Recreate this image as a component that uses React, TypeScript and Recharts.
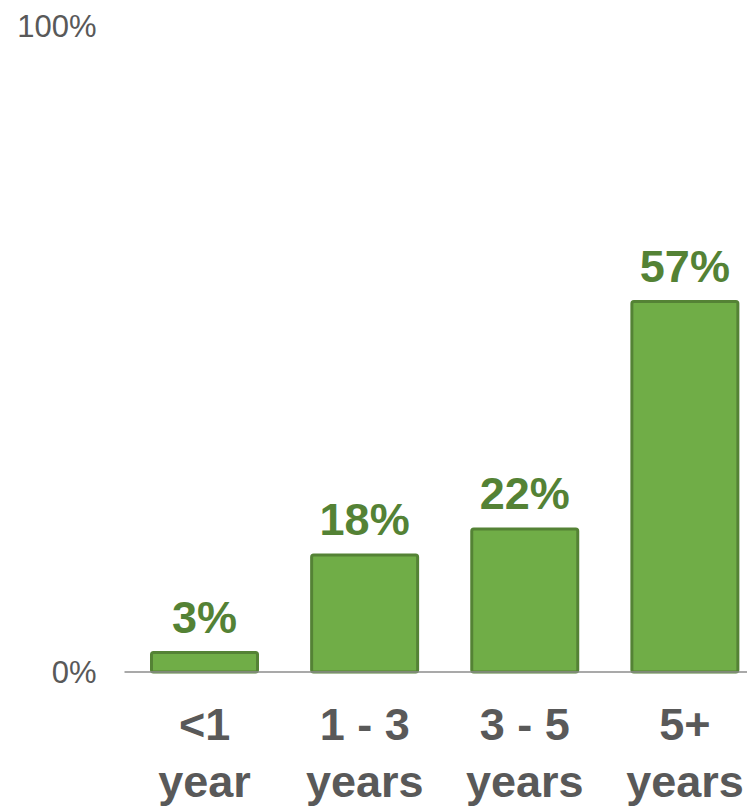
import React from "react";
import { BarChart, Bar, XAxis, YAxis, LabelList } from "recharts";

const categoriesTop = ["<1", "1 - 3", "3 - 5", "5+"];
const categoriesBottom = ["year", "years", "years", "years"];
const values = [3, 18, 22, 57];
const yTicks = [0, 100];

const data = categoriesTop.map((c, i) => ({
  name: c,
  sub: categoriesBottom[i],
  value: values[i],
}));

const FONT = "'Liberation Sans', Arial, sans-serif";

const CategoryTick = (props: any) => {
  const { x, y, index } = props;
  return (
    <text
      x={x}
      y={y}
      textAnchor="middle"
      fill="#595959"
      fontFamily={FONT}
      fontWeight="bold"
      fontSize={45}
    >
      <tspan x={x} dy={68}>{categoriesTop[index]}</tspan>
      <tspan x={x} dy={57}>{categoriesBottom[index]}</tspan>
    </text>
  );
};

export default function App() {
  return (
    <div style={{ width: 747, height: 804, overflow: "hidden" }}>
      <BarChart
        width={757}
        height={804}
        data={data}
        margin={{ top: 14, right: 0, bottom: 0, left: 0 }}
      >
        <YAxis
          domain={[0, 100]}
          ticks={yTicks}
          width={116.5}
          axisLine={false}
          tickLine={false}
          tickSize={0}
          tickMargin={28}
          tickFormatter={(v: number) => `${v}%`}
          tick={{ fill: "#595959", fontSize: 31, fontFamily: FONT } as any}
        />
        <XAxis
          dataKey="name"
          height={140}
          tickLine={false}
          tickSize={0}
          tickMargin={0}
          axisLine={{ stroke: "#8c8c8c", strokeWidth: 1.5 }}
          tick={<CategoryTick />}
          interval={0}
        />
        <Bar
          dataKey="value"
          fill="#70AD47"
          stroke="#548235"
          strokeWidth={3}
          barSize={106}
          radius={2}
          isAnimationActive={false}
        >
          <LabelList
            dataKey="value"
            position="top"
            offset={20}
            formatter={(v: any) => `${v}%`}
            fill="#548235"
            fontFamily={FONT}
            fontWeight="bold"
            fontSize={45}
          />
        </Bar>
      </BarChart>
    </div>
  );
}
